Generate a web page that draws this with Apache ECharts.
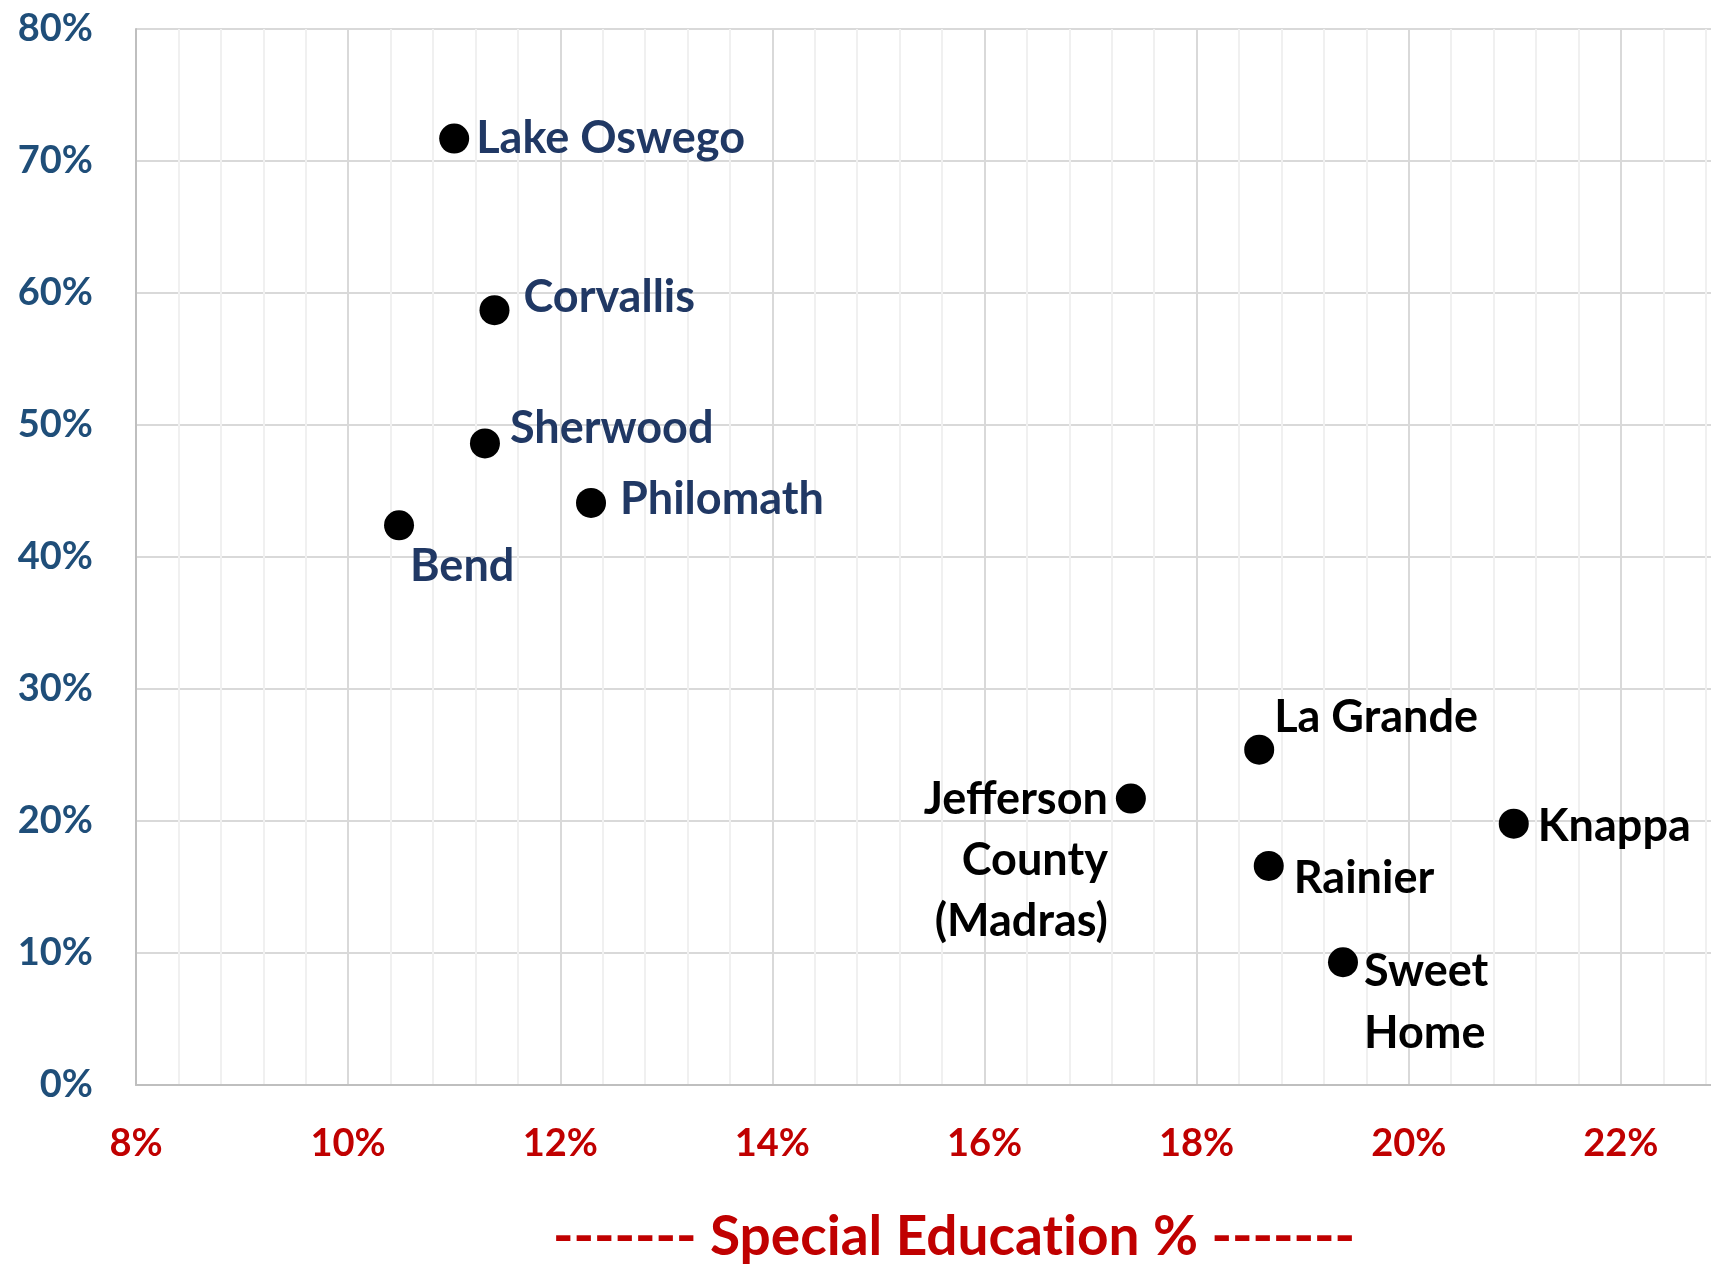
<!DOCTYPE html>
<html>
<head>
<meta charset="utf-8">
<script src="https://cdn.jsdelivr.net/npm/echarts/dist/echarts.min.js"></script>
<style>
  html, body { margin: 0; padding: 0; background: #fff; overflow: hidden; }
  /* wider than the window: the plot runs on past the right edge and gets cropped at ~22.8% */
  #Chart_specialEd { width: 1836px; height: 1265px; }
</style>
</head>
<body>
<div id="Chart_specialEd"></div>
<script>
// district names, special ed % (x) and the other % (y)
var districts = ['Lake Oswego', 'Corvallis', 'Sherwood', 'Philomath', 'Bend',
                 'La Grande', 'Jefferson\nCounty\n(Madras)', 'Knappa', 'Rainier', 'Sweet\nHome'];
var specialEd = [11.0, 11.38, 11.29, 12.29, 10.48, 18.59, 17.38, 20.99, 18.68, 19.38];
var yPct     = [71.7, 58.7, 48.6, 44.1, 42.4, 25.4, 21.7, 19.8, 16.6, 9.3];
var xTicks = [8, 10, 12, 14, 16, 18, 20, 22];
var yTicks = [0, 10, 20, 30, 40, 50, 60, 70, 80];

var fontFamily = "Lato";
var blueText = "#203864";
var blackText = "#000";

// label placement, kept apart from the values
var labelAlign  = ['left', 'left', 'left', 'left', 'left', 'left', 'right', 'left', 'left', 'left'];
var labelOffset = [[22, 0], [29, -13], [25, -15], [29, -3], [11, 41], [15, -32], [-23, -30], [24, 3], [25, 13], [21, -22]];
var labelColor  = [blueText, blueText, blueText, blueText, blueText, blackText, blackText, blackText, blackText, blackText];

chart_specialEd();

function chart_specialEd(){

    var points = [];
    districts.forEach(function(name, i){
        var multi = name.indexOf('\n') >= 0;
        points.push({
            name: name,
            value: [specialEd[i], yPct[i]],
            label: {
                show: true,
                position: 'inside',
                align: labelAlign[i],
                verticalAlign: multi ? 'top' : 'middle',
                lineHeight: i === 6 ? 61 : 62,
                offset: labelOffset[i],
                color: labelColor[i],
                formatter: '{b}'
            }
        });
    });

    var myChart = echarts.init(document.getElementById('Chart_specialEd'));

    var option = {
        animation: false,
        backgroundColor: '#fff',
        grid: {
            left: 136,
            top: 29,
            bottom: 180,
            right: 0,
            containLabel: false
        },
        graphic: [{
            type: 'text',
            x: 954,
            y: 1237,
            style: {
                // split in two runs so Lato does not fuse "ti"
                text: '{t|------- Special Educat}{t|ion % -------}',
                rich: { t: { fill: '#C00000', font: 'bold 55px ' + fontFamily } },
                fill: '#C00000',
                font: 'bold 55px ' + fontFamily,
                textAlign: 'center',
                textVerticalAlign: 'middle'
            }
        }],
        xAxis: {
            type: 'value',
            min: xTicks[0],
            max: 24,
            interval: 2,
            axisLine: { show: true, lineStyle: { color: '#BFBFBF', width: 2 } },
            axisTick: { show: false },
            axisLabel: {
                margin: 40,
                color: '#C00000',
                fontFamily: fontFamily,
                fontWeight: 'bold',
                fontSize: 38,
                formatter: function(v){
                    return xTicks.indexOf(v) >= 0 ? v + '%' : '';
                }
            },
            splitLine: { show: true, lineStyle: { color: '#D9D9D9', width: 2 } },
            minorTick: { show: false, splitNumber: 5 },
            minorSplitLine: { show: true, lineStyle: { color: '#F0F0F0', width: 2 } }
        },
        yAxis: {
            type: 'value',
            min: yTicks[0],
            max: yTicks[yTicks.length - 1],
            interval: 10,
            axisLine: { show: true, lineStyle: { color: '#BFBFBF', width: 2 } },
            axisTick: { show: false },
            axisLabel: {
                margin: 43,
                color: '#1F4E79',
                fontFamily: fontFamily,
                fontWeight: 'bold',
                fontSize: 38,
                formatter: '{value}%'
            },
            splitLine: { show: true, lineStyle: { color: '#D9D9D9', width: 2 } }
        },
        series: [{
            type: 'scatter',
            symbol: 'circle',
            symbolSize: 30,
            itemStyle: { color: '#000', opacity: 1 },
            label: {
                fontFamily: fontFamily,
                fontWeight: 'bold',
                fontSize: 45,
                opacity: 1
            },
            data: points
        }]
    };
    myChart.setOption(option);
}
</script>
</body>
</html>
